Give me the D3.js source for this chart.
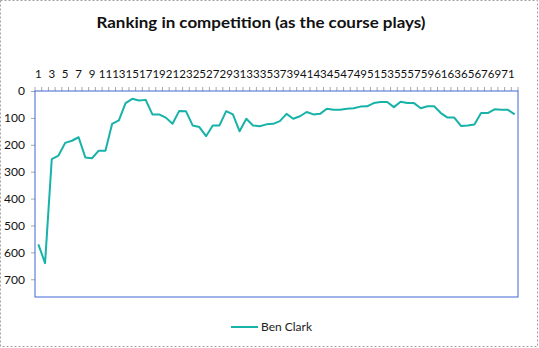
<!DOCTYPE html>
<html lang="en">
<head>
  <meta charset="utf-8">
  <script src="https://d3js.org/d3.v7.min.js"></script>
  <style>
    body { margin: 0; background: #fff; }
    text { font-family: Lato, "Open Sans", sans-serif; fill: #222; }
  </style>
</head>
<body>
  <svg id="chart" width="539" height="348"></svg>

  <script>
    // holes 1..72 and ranking after each one
    const holes = d3.range(1, 73);
    const ranking = [570, 640, 253, 240, 193, 185, 172, 247, 250, 222,
      222, 122, 109, 45, 29, 35, 33, 87, 87, 99,
      122, 74, 75, 128, 134, 168, 128, 128, 75, 87,
      150, 103, 128, 131, 124, 122, 112, 85, 103, 94,
      78, 87, 85, 66, 70, 70, 66, 64, 58, 57,
      45, 41, 41, 60, 40, 45, 45, 64, 57, 57,
      82, 99, 99, 130, 128, 125, 82, 82, 68, 70,
      70, 87];
    const yTicks = [0, 100, 200, 300, 400, 500, 600, 700];
    const xLabels = holes.filter(d => d % 2 == 1);
    const seriesName = "Ben Clark";
    const lineColor = "#17b2a8";

    const svg = d3.select("svg#chart");

    // outer dashed chart border
    svg.append("rect")
      .attr("x", 0.5).attr("y", 0.5)
      .attr("width", 537).attr("height", 346)
      .attr("fill", "none")
      .attr("stroke", "#a0a0a0")
      .attr("stroke-dasharray", "2,2");

    svg.append("text")
      .attr("x", 261).attr("y", 28)
      .attr("text-anchor", "middle")
      .attr("font-size", 16)
      .attr("font-weight", "bold")
      .attr("textLength", 329)
      .attr("lengthAdjust", "spacingAndGlyphs")
      .style("fill", "#111")
      .text("Ranking in competition (as the course plays)");

    const pLeft = 35, pRight = 518, pTop = 91, pBottom = 297;

    const x = d3.scaleBand().domain(holes).range([pLeft, pRight]);
    const y = d3.scaleLinear().domain([0, 766]).range([pTop, pBottom]);
    const cx = d => x(d) + x.bandwidth() / 2;

    // category tick marks on boundaries
    const bounds = holes.map(d => x(d)).concat([pRight]);
    svg.append("g")
      .selectAll("line")
      .data(bounds)
      .join("line")
      .attr("x1", d => d).attr("x2", d => d)
      .attr("y1", pTop - 4).attr("y2", pTop)
      .attr("stroke", "#a8a8a8");

    // x labels across the top
    const xAxis = svg.append("g")
      .attr("transform", `translate(0,${pTop})`)
      .call(d3.axisTop(x).tickValues(xLabels).tickSize(0).tickPadding(13));
    xAxis.select(".domain").remove();
    xAxis.selectAll("text").attr("font-size", 11.5).style("font-family", "Lato").style("fill", "#111");

    // y axis, reversed rank
    const yAxis = svg.append("g")
      .attr("transform", `translate(${pLeft},0)`)
      .call(d3.axisLeft(y).tickValues(yTicks).tickSize(4).tickPadding(6));
    yAxis.select(".domain").remove();
    yAxis.selectAll("line").attr("stroke", "#a8a8a8");
    yAxis.selectAll("text").attr("font-size", 12).style("font-family", "Lato").style("fill", "#111");

    // plot frame
    svg.append("rect")
      .attr("x", pLeft).attr("y", pTop)
      .attr("width", pRight - pLeft).attr("height", pBottom - pTop)
      .attr("fill", "none")
      .attr("stroke", "#4169d6")
      .attr("stroke-width", 1);

    const line = d3.line()
      .x((d, i) => cx(holes[i]))
      .y(d => y(d));

    svg.append("path")
      .datum(ranking)
      .attr("d", line)
      .attr("fill", "none")
      .attr("stroke", lineColor)
      .attr("stroke-width", 2)
      .attr("stroke-linejoin", "round");

    // legend
    svg.append("line")
      .attr("x1", 231).attr("x2", 258)
      .attr("y1", 327).attr("y2", 327)
      .attr("stroke", lineColor)
      .attr("stroke-width", 2);
    svg.append("text")
      .attr("x", 261).attr("y", 331)
      .attr("font-size", 12)
      .text(seriesName);
  </script>
</body>
</html>
